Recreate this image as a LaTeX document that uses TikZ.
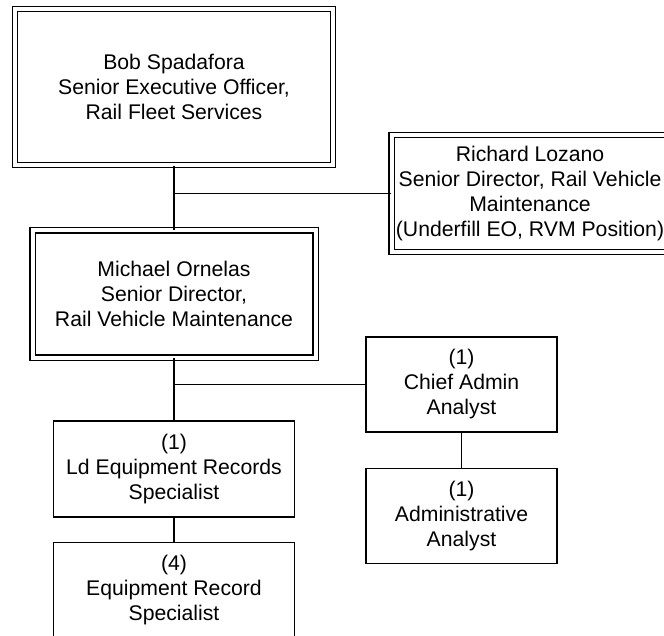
\documentclass[tikz,border=0pt]{standalone}
\usepackage{fontspec}
\setmainfont{Liberation Sans}
\usetikzlibrary{positioning}

\begin{document}
\begin{tikzpicture}[x=1pt,y=-1pt,node distance=24pt,
box/.style={draw,align=center,inner sep=0pt,font=\fontsize{21.2}{25}\selectfont},
lead/.style={box,double,double distance=4pt,line width=1.3pt},
staff/.style={box,line width=1.5pt,minimum height=95pt},
link/.style={line width=1.4pt}]
\useasboundingbox (0,0) rectangle (664,635);
\clip (0,0) rectangle (664,635);
\node[lead,minimum width=318pt,minimum height=156pt] (bob) at (174,87)
  {Bob Spadafora\\Senior Executive Officer,\\Rail Fleet Services};
\node[lead,minimum width=277pt,minimum height=117pt] (lozano) at (530,193.5)
  {Richard Lozano\\Senior Director, Rail Vehicle\\Maintenance\\(Underfill EO, RVM Position)};
\node[lead,minimum width=283pt,minimum height=127.5pt] (ornelas) at (174,294)
  {Michael Ornelas\\Senior Director,\\Rail Vehicle Maintenance};
\node[staff,minimum width=191pt] (chief) at (461.5,384.5)
  {(1)\\Chief Admin\\Analyst};
\node[staff,minimum width=191pt,below=35pt of chief] (admin)
  {(1)\\Administrative\\Analyst};
\node[staff,minimum width=241pt,minimum height=96pt] (ldspec) at (174,469)
  {(1)\\Ld Equipment Records\\Specialist};
\node[staff,minimum width=241pt,minimum height=96pt,below=of ldspec] (recspec)
  {(4)\\Equipment Record\\Specialist};
% reporting lines
\draw[link] (bob) -- (ornelas);
\draw[link] (lozano.west) -| (bob.south);
\draw[link] (ornelas) -- (ldspec);
\draw[link] (chief.west) -| (ornelas.south);
\draw[link] (chief) -- (admin);
\draw[link] (ldspec) -- (recspec);
\end{tikzpicture}
\end{document}
